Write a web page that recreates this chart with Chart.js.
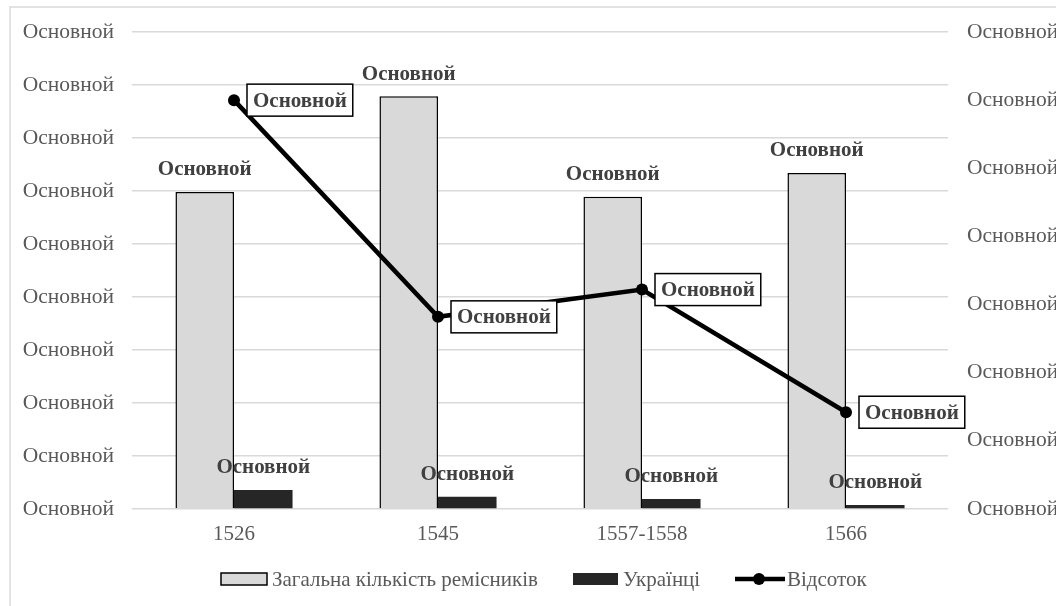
<!DOCTYPE html>
<html><head><meta charset="utf-8">
<script src="https://cdn.jsdelivr.net/npm/chart.js@4/dist/chart.umd.min.js"></script>
<style>html,body{margin:0;padding:0;background:#fff;overflow:hidden}#wrap{width:1056px;height:606px;position:relative}</style>
</head><body><div id="wrap"><canvas id="c" width="1056" height="606"></canvas></div>
<script>
const categories = ['1526', '1545', '1557-1558', '1566'];
const totalCraftsmen = [5.98, 7.79, 5.89, 6.34];
const ukrainians = [0.36, 0.23, 0.19, 0.075];
const percentage = [6.0, 2.82, 3.22, 1.42];
const leftTickLabel = 'Основной';
const rightTickLabel = 'Основной';
const dataLabelText = 'Основной';
const seriesNames = ['Загальна кількість ремісників', 'Українці', 'Відсоток'];

const FONT = '"Liberation Serif", "Times New Roman", serif';
const TICK_COLOR = '#595959';
const LABEL_COLOR = '#404040';

const frame = {
  id: 'frame',
  beforeDraw(chart) {
    const c = chart.ctx;
    c.save();
    c.fillStyle = '#fff';
    c.fillRect(0, 0, chart.width, chart.height);
    c.strokeStyle = '#d9d9d9';
    c.lineWidth = 1.5;
    c.strokeRect(10, 7, 1200, 700);
    c.restore();
  }
};

const labelsPlugin = {
  id: 'labelsPlugin',
  afterDraw(chart) {
    const c = chart.ctx;
    c.save();
    c.font = 'bold 21px ' + FONT;
    chart.data.datasets.forEach((ds, di) => {
      const meta = chart.getDatasetMeta(di);
      meta.data.forEach((el) => {
        if (ds.type === 'line') {
          const w = c.measureText(dataLabelText).width + 12;
          const h = 32;
          const x = el.x + 13, y = el.y - h / 2;
          c.fillStyle = '#fff';
          c.fillRect(x, y, w, h);
          c.strokeStyle = '#000';
          c.lineWidth = 1.5;
          c.strokeRect(x, y, w, h);
          c.fillStyle = LABEL_COLOR;
          c.textAlign = 'left';
          c.textBaseline = 'middle';
          c.fillText(dataLabelText, x + 6, el.y + 1);
        } else {
          c.fillStyle = LABEL_COLOR;
          c.textAlign = 'center';
          c.textBaseline = 'middle';
          c.fillText(dataLabelText, el.x, el.y - 22);
        }
      });
    });
    // legend
    const ly = 579;
    c.font = '21px ' + FONT;
    c.textAlign = 'left';
    c.textBaseline = 'middle';
    c.fillStyle = '#d9d9d9';
    c.fillRect(221, 573, 46, 12);
    c.strokeStyle = '#000';
    c.lineWidth = 1.5;
    c.strokeRect(221, 573, 46, 12);
    c.fillStyle = TICK_COLOR;
    c.fillText(seriesNames[0], 272, ly + 1);
    c.fillStyle = '#262626';
    c.fillRect(573, 573, 45, 12);
    c.fillStyle = TICK_COLOR;
    c.fillText(seriesNames[1], 623, ly + 1);
    c.strokeStyle = '#000';
    c.lineWidth = 4.5;
    c.beginPath();
    c.moveTo(735, ly);
    c.lineTo(785, ly);
    c.stroke();
    c.fillStyle = '#000';
    c.beginPath();
    c.arc(759, ly, 6, 0, Math.PI * 2);
    c.fill();
    c.fillStyle = TICK_COLOR;
    c.fillText(seriesNames[2], 787, ly + 1);
    c.restore();
  }
};

new Chart(document.getElementById('c'), {
  data: {
    labels: categories,
    datasets: [
      {
        type: 'line', label: seriesNames[2], data: percentage, yAxisID: 'y1', order: 0,
        borderColor: '#000', borderWidth: 4.5, pointRadius: 6, pointBackgroundColor: '#000',
        pointBorderWidth: 0, tension: 0, fill: false
      },
      {
        type: 'bar', label: seriesNames[0], data: totalCraftsmen, yAxisID: 'y', order: 2,
        backgroundColor: '#d9d9d9', borderColor: '#000', borderWidth: 1.5,
        categoryPercentage: 0.574, barPercentage: 1
      },
      {
        type: 'bar', label: seriesNames[1], data: ukrainians, yAxisID: 'y', order: 3,
        backgroundColor: '#262626', borderWidth: 0,
        categoryPercentage: 0.574, barPercentage: 1
      }
    ]
  },
  options: {
    responsive: false,
    animation: false,
    devicePixelRatio: 1,
    layout: { padding: { top: 32, left: 0, right: 0, bottom: 0 } },
    plugins: { legend: { display: false }, tooltip: { enabled: false } },
    scales: {
      x: {
        grid: { display: false, drawTicks: false },
        border: { display: false },
        ticks: { color: TICK_COLOR, font: { family: FONT, size: 21 }, padding: 13, maxRotation: 0 },
        afterFit(s) { s.height = 97; }
      },
      y: {
        position: 'left', min: 0, max: 9,
        ticks: { stepSize: 1, color: TICK_COLOR, font: { family: FONT, size: 21.5 }, padding: 18,
          callback: () => leftTickLabel },
        grid: { color: '#d9d9d9', lineWidth: 1.5, drawTicks: false },
        border: { display: false },
        afterFit(s) { s.width = 132; }
      },
      y1: {
        position: 'right', min: 0, max: 7,
        ticks: { stepSize: 1, color: TICK_COLOR, font: { family: FONT, size: 21.5 }, padding: 19,
          callback: () => rightTickLabel },
        grid: { display: false, drawTicks: false },
        border: { display: false },
        afterFit(s) { s.width = 108; }
      }
    }
  },
  plugins: [frame, labelsPlugin]
});
</script>
</body></html>
